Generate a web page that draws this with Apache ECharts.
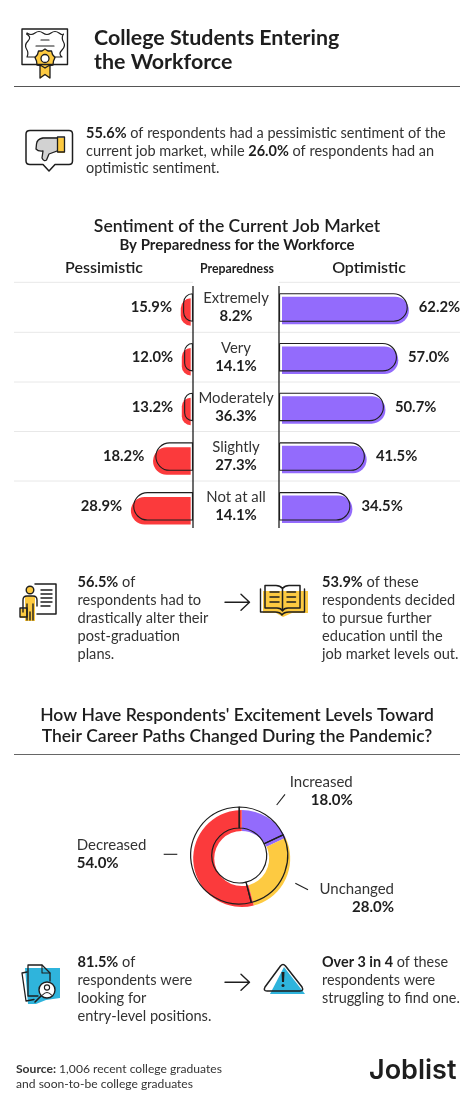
<!DOCTYPE html>
<html lang="en">
<head>
    <meta charset="UTF-8">
    <title>College Students Entering the Workforce</title>
    <script src="https://cdn.jsdelivr.net/npm/echarts/dist/echarts.min.js"></script>
    <style>
        html, body { margin: 0; padding: 0; background: #fff; }
        #chart { width: 474px; height: 1112px; }
    </style>
</head>
<body>
    <div id="chart"></div>

    <script>
        // Data
        var categories = ['Extremely', 'Very', 'Moderately', 'Slightly', 'Not at all'];
        var preparedShare = [8.2, 14.1, 36.3, 27.3, 14.1];
        var optimistic = [62.2, 57.0, 50.7, 41.5, 34.5];
        var pessimistic = [15.9, 12.0, 13.2, 18.2, 28.9];
        // the top three red bars are drawn much shorter than their labels in the reference
        var pessimisticDrawn = [4.8, 4.3, 4.3, 18.2, 28.9];

        var donutNames = ['Increased', 'Unchanged', 'Decreased'];
        var donutValues = [18.0, 28.0, 54.0];

        var INK = '#1e1e1e', BODY = '#333333';
        var RED = '#fb3a3c', PURPLE = '#936bfc', YELLOW = '#fdca41', BLUE = '#2fb4dc';
        var FONT = 'Lato';

        var chart = echarts.init(document.getElementById('chart'));
        var g = [];
        var shapeCount = 0;

        // the graphic component has no plain path type, so register each icon path as a shape
        function pathType(d) {
            var name = 'iconPath' + (shapeCount++);
            echarts.graphic.registerShape(name, echarts.graphic.extendPath(d, {}));
            return name;
        }

        // {b|...} marks bold runs in a line
        function txt(x, y, text, size, opts) {
            opts = opts || {};
            g.push({
                type: 'text', x: x, y: y, z: 10, silent: true,
                style: {
                    text: text,
                    fontFamily: FONT,
                    fontSize: size,
                    fontWeight: opts.weight || 400,
                    fill: opts.color || BODY,
                    textAlign: opts.align || 'left',
                    textVerticalAlign: 'middle',
                    rich: {
                        b: { fontFamily: FONT, fontSize: size, fontWeight: 700, fill: INK, lineHeight: size + 3 },
                        n: { fontFamily: FONT, fontSize: size, fontWeight: 400, fill: opts.color || BODY, lineHeight: size + 3 }
                    }
                }
            });
        }
        function stroke(d, width, z) {
            g.push({ type: pathType(d), silent: true, z: z || 6,
                style: { fill: 'none', stroke: INK, lineWidth: width || 1.5, lineJoin: 'round', lineCap: 'round' } });
        }
        function fill(d, color, z) {
            g.push({ type: pathType(d), silent: true, z: z || 5, style: { fill: color, stroke: 'none' } });
        }
        function rule(x1, y, x2, color, w) {
            g.push({ type: 'line', silent: true, z: 1, shape: { x1: x1, y1: y, x2: x2, y2: y },
                style: { stroke: color, lineWidth: w || 1 } });
        }
        function segment(x1, y1, x2, y2, w) {
            g.push({ type: 'line', silent: true, z: 8, shape: { x1: x1, y1: y1, x2: x2, y2: y2 },
                style: { stroke: INK, lineWidth: w || 1.1 } });
        }
        function arrow(y) {
            stroke('M225 ' + y + 'L249 ' + y + 'M241 ' + (y - 8) + 'L249.5 ' + y + 'L241 ' + (y + 8), 1.4);
        }

        // Header
        txt(94, 38, 'College Students Entering', 21.4, { weight: 700, color: INK });
        txt(94, 62, 'the Workforce', 21.4, { weight: 700, color: INK });
        rule(14, 86.5, 460, '#555555', 1);

        txt(86, 133, '{b|55.6%}{n| of respondents had a pessimistic sentiment of the}', 14.5);
        txt(86, 151, '{n|current job market, while }{b|26.0%}{n| of respondents had an}', 14.5);
        txt(86, 168.7, '{n|optimistic sentiment.}', 14.5);

        // Bar section headings
        txt(237, 226, 'Sentiment of the Current Job Market', 17.6, { align: 'center', weight: 600, color: INK });
        txt(237, 244.7, 'By Preparedness for the Workforce', 15, { align: 'center', weight: 700, color: INK });
        txt(104, 267.7, 'Pessimistic', 16, { align: 'center', weight: 600, color: INK });
        txt(237, 269, 'Preparedness', 12.3, { align: 'center', weight: 700, color: INK });
        txt(369, 267.7, 'Optimistic', 16, { align: 'center', weight: 600, color: INK });

        // Row separators and the two column lines
        rule(14, 282.3, 193, '#e8e8e8');
        rule(279, 282.3, 460, '#e8e8e8');
        [332.3, 382, 431.5, 481].forEach(function (y) { rule(14, y, 460, '#e8e8e8'); });
        segment(193, 286, 193, 528, 1.3);
        segment(279, 286, 279, 528, 1.3);

        // Middle callouts
        txt(77.5, 582.7, '{b|56.5%}{n| of}', 14.6);
        ['respondents had to', 'drastically alter their', 'post-graduation', 'plans.'].forEach(function (s, i) {
            txt(77.5, 600.6 + i * 17.8, s, 14.6);
        });
        txt(322, 582.7, '{b|53.9%}{n| of these}', 14.6);
        ['respondents decided', 'to pursue further', 'education until the', 'job market levels out.'].forEach(function (s, i) {
            txt(322, 600.6 + i * 17.8, s, 14.6);
        });
        arrow(602.3);

        // Donut headings
        txt(237, 715, "How Have Respondents' Excitement Levels Toward", 17.5, { align: 'center', weight: 600, color: INK });
        txt(237, 736, 'Their Career Paths Changed During the Pandemic?', 17.5, { align: 'center', weight: 600, color: INK });
        rule(14, 754.5, 460, '#666666', 1);

        // Donut labels
        txt(352.7, 782, donutNames[0], 15, { align: 'right' });
        txt(352.7, 800, donutValues[0].toFixed(1) + '%', 15, { align: 'right', weight: 700, color: INK });
        txt(76.7, 845.3, donutNames[2], 15);
        txt(76.7, 863.3, donutValues[2].toFixed(1) + '%', 15, { weight: 700, color: INK });
        txt(394, 889.3, donutNames[1], 15, { align: 'right' });
        txt(394, 907.3, donutValues[1].toFixed(1) + '%', 15, { align: 'right', weight: 700, color: INK });
        segment(276.7, 805, 285, 794.3);
        segment(163.7, 854.3, 177.3, 854.3);
        segment(295.3, 883.3, 308, 889.7);

        // Bottom callouts
        txt(77.5, 962.7, '{b|81.5%}{n| of}', 14.6);
        ['respondents were', 'looking for', 'entry-level positions.'].forEach(function (s, i) {
            txt(77.5, 980.7 + i * 17.9, s, 14.6);
        });
        txt(322, 962.7, '{b|Over 3 in 4}{n| of these}', 14.4);
        ['respondents were', 'struggling to find one.'].forEach(function (s, i) {
            txt(322, 980.7 + i * 17.9, s, 14.4);
        });
        arrow(982.3);

        // Footer
        txt(16, 1069.3, '{s|Source:}{n| 1,006 recent college graduates}', 12.1);
        g[g.length - 1].style.rich.s = { fontFamily: FONT, fontSize: 12.1, fontWeight: 700, fill: BODY };
        txt(16, 1084, 'and soon-to-be college graduates', 12.1);
        txt(369, 1071, 'Joblist', 27, { weight: 600, color: INK });
        g[g.length - 1].style.fontFamily = 'Inter';

        // Icons
        // diploma
        stroke('M22 29H67.5V64.5H22Z', 1.4);
        stroke('M27 33Q31 36 35 33T43 33T51 33T59 33T63.5 34Q61 38 63.5 42T62 50T62 57H55M35 57H27Q29 53 26.5 49T28 41T26.5 34', 1.2);
        stroke('M41 40H49M36 46H54', 1.2);
        fill('M40 65H50V79L45 75L40 79Z', YELLOW);
        stroke('M40 66V78L45 74.5L50 78V66', 1.3);
        fill('M45 49L48 51L51.5 51L52.5 54.5L55 57.5L53.5 61L53 65L49 65.5L45 68L41 65.5L37 65L36.5 61L35 57.5L37.5 54.5L38.5 51L42 51Z', YELLOW);
        stroke('M45 49L48 51L51.5 51L52.5 54.5L55 57.5L53.5 61L53 65L49 65.5L45 68L41 65.5L37 65L36.5 61L35 57.5L37.5 54.5L38.5 51L42 51Z', 1.3);
        g.push({ type: 'circle', silent: true, z: 7, shape: { cx: 45, cy: 58.5, r: 4 }, style: { fill: '#fff', stroke: INK, lineWidth: 1.3 } });

        // thumbs down in a speech bubble
        stroke('M30 130.5H69Q72.5 130.5 72.5 134V161Q72.5 164.5 69 164.5H55L49 171L43 164.5H30Q26 164.5 26 161V134Q26 130.5 30 130.5Z', 1.5);
        fill('M42 137H57.5V152L49 154L46 161L42 160L43 151L36 150L36 143Z', '#d2d2d2');
        stroke('M57 138H43Q37 139 36.5 144L36 149Q38 151.5 43 151L42 158Q44 162 46.5 160L49 154L57 151', 1.3);
        fill('M58 138H64.5V153H58Z', YELLOW);
        stroke('M57.5 137H64.5V152H57.5Z', 1.3);

        // person with paper
        stroke('M35 584H56V614H37', 1.5);
        stroke('M41 590H52M41 594H52M41 598H52M41 602H52M41 606H50', 1.4);
        fill('M25 596H35V621H25Z', YELLOW);
        g.push({ type: 'circle', silent: true, z: 6, shape: { cx: 30, cy: 590, r: 3.8 }, style: { fill: YELLOW, stroke: INK, lineWidth: 1.4 } });
        stroke('M23 612V600Q23 596 27 596H33Q37 596 37 600V606M27 604V620M33 604V620M30 612V620', 1.4);
        fill('M20 609H27V618H20Z', YELLOW);
        stroke('M20 608H27V617H20Z', 1.4);

        // open book
        fill('M263 591H308V613H292L283 617L276 613H263Z', YELLOW);
        stroke('M260.5 589V612H275Q280 612 282 615Q284 612 289 612H304.5V589', 1.4);
        stroke('M265 585.5H276Q280 585.5 282.5 588.5Q285 585.5 289 585.5H300V608H288Q284 608 282.5 611Q281 608 277 608H265ZM282.5 589V610', 1.5);
        stroke('M270 592H279M270 597H279M270 602H279M287 592H295.5M287 597H295.5M287 602H295.5', 1.5);

        // documents with a magnifier
        fill('M25 968H60V998L46 1000L36 1004H28Z', BLUE);
        stroke('M27 972L22 973L26 1001L34 999.5', 1.3);
        stroke('M28 965H42L50 973V981M28 965V996H38', 1.3);
        stroke('M42 965V973H50', 1.1);
        g.push({ type: 'circle', silent: true, z: 7, shape: { cx: 47, cy: 990, r: 8 }, style: { fill: '#fff', stroke: INK, lineWidth: 1.4 } });
        g.push({ type: 'circle', silent: true, z: 7, shape: { cx: 47, cy: 987.5, r: 2.6 }, style: { fill: '#fff', stroke: INK, lineWidth: 1.1 } });
        stroke('M42.5 995Q47 990 51.5 995', 1.1, 8);
        stroke('M41 996L35 1002', 1.6);

        // warning triangle
        fill('M284 967L305 994H270Z', BLUE);
        stroke('M280.5 966Q283 963 285.5 966L302 987Q304 991 300 991H267Q263 991 265 987Z', 1.5);
        fill('M281.5 972H284.5L284 982H282Z', INK, 7);
        g.push({ type: 'circle', silent: true, z: 7, shape: { cx: 283, cy: 985.5, r: 1.5 }, style: { fill: INK } });

        // Bar grids: fill layer is the outline layer nudged down and outwards
        var PLOT_W = 186.3, PLOT_H = 248.5, PLOT_TOP = 282.65, X_MAX = 90;
        var grids = [
            { left: 279, top: PLOT_TOP, width: PLOT_W, height: PLOT_H },
            { left: 282, top: PLOT_TOP + 3, width: 183.6, height: PLOT_H },
            { left: 6.7, top: PLOT_TOP, width: PLOT_W, height: PLOT_H },
            { left: 4.4, top: PLOT_TOP + 4.5, width: PLOT_W, height: PLOT_H }
        ];
        var xAxes = grids.map(function (gr, i) {
            return { gridIndex: i, type: 'value', min: 0, max: X_MAX, inverse: i >= 2, show: false };
        });
        var yAxes = grids.map(function (gr, i) {
            return {
                gridIndex: i, type: 'category', data: categories, inverse: true, show: i === 0,
                axisLine: { show: false }, axisTick: { show: false },
                axisLabel: {
                    margin: 43,
                    align: 'center',
                    formatter: function (v, idx) {
                        return '{n|' + v + '}\n{b|' + preparedShare[idx].toFixed(1) + '%}';
                    },
                    rich: {
                        n: { fontFamily: FONT, fontSize: 14.9, color: BODY, lineHeight: 17.8, align: 'center' },
                        b: { fontFamily: FONT, fontSize: 14.9, fontWeight: 700, color: INK, lineHeight: 17.8, align: 'center' }
                    }
                }
            };
        });

        function valueLabel(pos, values) {
            return {
                show: true, position: pos, distance: 11,
                fontFamily: FONT, fontSize: 14.8, fontWeight: 700, color: INK,
                formatter: function (p) { return values[p.dataIndex].toFixed(1) + '%'; }
            };
        }
        function outlineBar(idx, data, radius, label) {
            return {
                type: 'bar', xAxisIndex: idx, yAxisIndex: idx, data: data, barWidth: 28.5, z: 4,
                itemStyle: { color: 'rgba(0,0,0,0)', borderColor: INK, borderWidth: 1.1, borderRadius: radius },
                label: label, silent: true
            };
        }
        function fillBar(idx, data, radius, color) {
            return {
                type: 'bar', xAxisIndex: idx, yAxisIndex: idx, data: data, barWidth: 27.5, z: 2,
                itemStyle: { color: color, borderRadius: radius }, silent: true
            };
        }
        function donut(center, fillLayer) {
            var colors = [PURPLE, YELLOW, RED];
            return {
                type: 'pie', center: center, radius: [27.5, 48.5], startAngle: 90, clockwise: true,
                silent: true, z: fillLayer ? 2 : 4,
                label: { show: false }, labelLine: { show: false },
                data: donutNames.map(function (n, i) {
                    return {
                        name: n, value: donutValues[i],
                        itemStyle: fillLayer
                            ? { color: colors[i] }
                            : { color: 'rgba(0,0,0,0)', borderColor: INK, borderWidth: 1.2 }
                    };
                })
            };
        }

        chart.setOption({
            animation: false,
            backgroundColor: '#ffffff',
            grid: grids,
            xAxis: xAxes,
            yAxis: yAxes,
            series: [
                fillBar(1, optimistic, [0, 14, 14, 0], PURPLE),
                outlineBar(0, optimistic, [0, 14, 14, 0], valueLabel('right', optimistic)),
                fillBar(3, pessimisticDrawn, [14, 0, 0, 14], RED),
                outlineBar(2, pessimisticDrawn, [14, 0, 0, 14], valueLabel('left', pessimistic)),
                donut([241.7, 858.5], true),
                donut([239.2, 855.5], false)
            ],
            graphic: g
        });
    </script>
</body>
</html>
